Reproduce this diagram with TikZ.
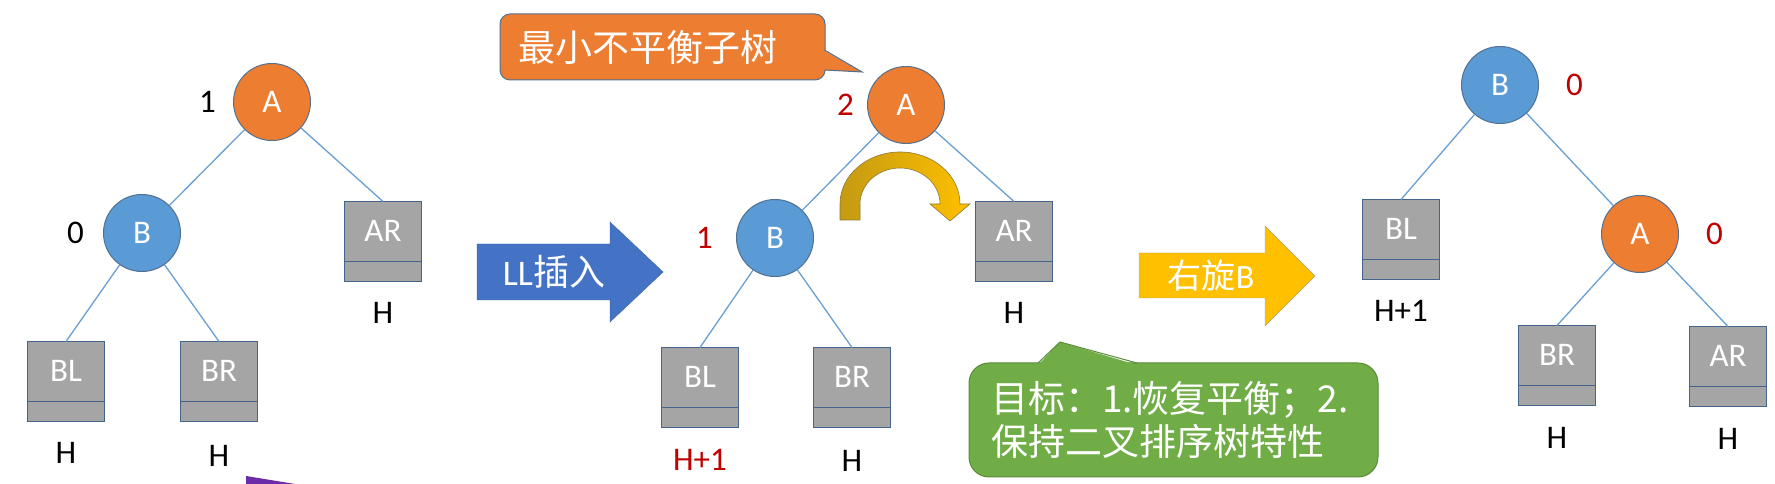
\documentclass[tikz,border=0pt]{standalone}
\usepackage{fontspec}
\setmainfont{Carlito}
\newfontfamily\cjk{Noto Sans CJK SC}
\usetikzlibrary{positioning}

\definecolor{nodeorange}{HTML}{ED7D31}
\definecolor{nodeblue}{HTML}{5B9BD5}
\definecolor{ringline}{HTML}{52708F}
\definecolor{boxgray}{HTML}{A5A5A5}
\definecolor{boxline}{HTML}{44648C}
\definecolor{edgeblue}{HTML}{6A9FD2}
\definecolor{bfred}{HTML}{C00000}
\definecolor{insblue}{HTML}{4472C4}
\definecolor{insline}{HTML}{3A5F9E}
\definecolor{rotyellow}{HTML}{FFC000}
\definecolor{rotdark}{HTML}{C49A12}
\definecolor{rotline}{HTML}{8C7A3A}
\definecolor{notegreen}{HTML}{70AD47}
\definecolor{noteline}{HTML}{5A8A3A}
\definecolor{cursorpurple}{HTML}{6A2CA8}

\begin{document}
\begin{tikzpicture}[
    x=1pt, y=1pt,
    every node/.style={font=\fontsize{33}{38}\selectfont},
    vertex/.style={
        circle,
        draw=ringline,
        line width=1pt,
        minimum size=77pt,
        inner sep=0pt,
        text=white
    },
    anode/.style={vertex, fill=nodeorange},
    bnode/.style={vertex, fill=nodeblue},
    subtree/.style={
        draw=boxline,
        line width=1pt,
        fill=boxgray,
        minimum width=77pt,
        minimum height=80pt,
        inner sep=0pt,
        text=white,
        text height=21pt,
        text depth=21pt,
        path picture={
            \draw[boxline, line width=1pt]
                ([yshift=20pt]path picture bounding box.south west) --
                ([yshift=20pt]path picture bounding box.south east);
        }
    },
    hlabel/.style={inner sep=0pt},
    bfac/.style={inner sep=0pt},
    link/.style={draw=edgeblue, line width=1.3pt},
    banner/.style={
        rounded corners=10pt,
        line width=1pt,
        align=left,
        text=white,
        font=\cjk\fontsize{37}{43}\selectfont
    }
    ]
\fill[white] (0,0) rectangle (1775,484);
\useasboundingbox (0,0) rectangle (1775,484);

% tree before insertion
\node[anode] (A1) at (272,382) {A};
\node[bnode] (B1) at (142,251) {B};
\node[subtree] (AR1) at (383,242) {AR};
\node[subtree] (BL1) at (66,102) {BL};
\node[subtree] (BR1) at (219,102) {BR};
\node[bfac, left=17pt of A1] (fA1) {1};
\node[bfac, left=19pt of B1] (fB1) {0};
\node[hlabel, below=20pt of AR1] (hAR1) {H};
\node[hlabel, below=20pt of BL1] (hBL1) {H};
\node[hlabel, below=23pt of BR1] (hBR1) {H};
\foreach \u/\v in {A1/B1, A1/AR1.north, B1/BL1.north, B1/BR1.north}
\draw[link] (\u) -- (\v);

% LL insertion
\fill[insblue, draw=insline] (477,184) -- (610,184) -- (610,162) -- (663,212)
    -- (610,262) -- (610,240) -- (477,240) -- cycle;
\node[text=white, font=\fontsize{36}{40}\selectfont] (ins) at (554,212) {LL{\cjk 插入}};

% unbalanced tree
\node[anode] (A2) at (906,379) {A};
\node[bnode] (B2) at (775,246) {B};
\node[subtree] (AR2) at (1014,242) {AR};
\node[subtree] (BL2) at (700,96) {BL};
\node[subtree] (BR2) at (852,96) {BR};
\node[bfac, text=bfred, left=13pt of A2] (fA2) {2};
\node[bfac, text=bfred, left=23pt of B2] (fB2) {1};
\node[hlabel, below=20pt of AR2] (hAR2) {H};
\node[hlabel, text=bfred, below=21pt of BL2] (hBL2) {H+1};
\node[hlabel, below=22pt of BR2] (hBR2) {H};
\foreach \u/\v in {A2/B2, A2/AR2.north, B2/BL2.north, B2/BR2.north}
\draw[link] (\u) -- (\v);

\shadedraw[left color=rotdark, right color=rotyellow, draw=rotline, line width=0.6pt]
    (840,264) -- (840,280) arc[start angle=180, end angle=0, x radius=60, y radius=52]
    -- (970,280) -- (950,263) -- (930,280) -- (940,280)
    arc[start angle=0, end angle=180, x radius=40, y radius=36] -- (860,264) -- cycle;

\node[banner, fill=nodeorange, draw=ringline, minimum height=66pt,
    text width=289pt, inner xsep=18pt] (unbal) at (662.5,437) {最小不平衡子树};
\coordinate (tipA) at (862,412);
\fill[nodeorange] (823,434) -- (tipA) -- (823,414) -- cycle;
\draw[ringline, line width=1pt] (824.5,434) -- (tipA) -- (824.5,414);

\node[banner, fill=notegreen, draw=noteline, rounded corners=20pt, minimum height=114pt,
    text width=365pt, inner xsep=22pt] (goal) at (1173.5,64)
    {目标：1.恢复平衡；2.\\保持二叉排序树特性};
\coordinate (tipG) at (1060,142);
\fill[notegreen] (1038,119) -- (tipG) -- (1137,119) -- cycle;
\draw[noteline, line width=1pt] (1038,121) -- (tipG) -- (1137,121);

% right rotation
\fill[rotyellow, draw=rotline!70] (1139,186) -- (1265,186) -- (1265,158) -- (1315,208)
    -- (1265,258) -- (1265,231) -- (1139,231) -- cycle;
\node[text=white, font=\fontsize{34}{38}\selectfont] (rot) at (1211,208) {{\cjk 右旋}B};

% balanced tree
\node[bnode] (B3) at (1500,399) {B};
\node[anode] (A3) at (1640,250) {A};
\node[subtree] (BL3) at (1401,244) {BL};
\node[subtree] (BR3) at (1557,118) {BR};
\node[subtree] (AR3) at (1728,117) {AR};
\node[bfac, text=bfred, right=27pt of B3] (fB3) {0};
\node[bfac, text=bfred, right=27pt of A3] (fA3) {0};
\node[hlabel, below=20pt of BL3] (hBL3) {H+1};
\node[hlabel, below=21pt of BR3] (hBR3) {H};
\node[hlabel, below=21pt of AR3] (hAR3) {H};
\foreach \u/\v in {B3/BL3.north, B3/A3, A3/BR3.north, A3/AR3.north}
\draw[link] (\u) -- (\v);

\fill[cursorpurple] (246,8) -- (295,0) -- (246,0) -- cycle;
\end{tikzpicture}
\end{document}
